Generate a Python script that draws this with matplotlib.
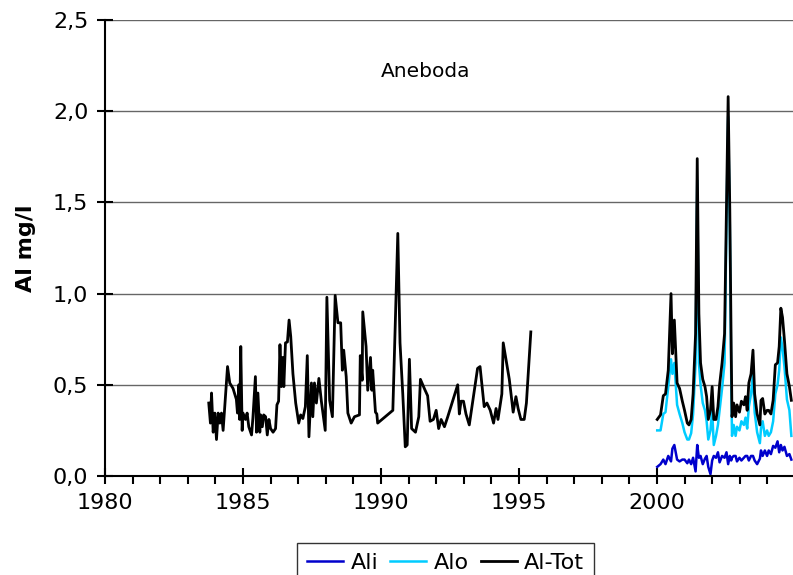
import numpy as np
import matplotlib.pyplot as plt
from matplotlib.ticker import MultipleLocator, FuncFormatter

# Al-Tot, första mätperioden (1983-1995)
years_old = [1983.76, 1983.82, 1983.86, 1983.92, 1983.98, 1984.04, 1984.10, 1984.16, 1984.22, 1984.28,
             1984.44, 1984.52, 1984.64, 1984.76, 1984.80, 1984.85, 1984.88, 1984.92, 1984.97, 1985.00,
             1985.09, 1985.15, 1985.21, 1985.31, 1985.36, 1985.45, 1985.49, 1985.54, 1985.61, 1985.64,
             1985.70, 1985.75, 1985.82, 1985.88, 1985.94, 1986.00, 1986.09, 1986.18, 1986.23, 1986.29,
             1986.34, 1986.39, 1986.44, 1986.48, 1986.54, 1986.61, 1986.67, 1986.73, 1986.81, 1986.91,
             1987.02, 1987.09, 1987.17, 1987.26, 1987.33, 1987.39, 1987.48, 1987.53, 1987.59, 1987.66,
             1987.75, 1987.84, 1987.98, 1988.04, 1988.14, 1988.24, 1988.34, 1988.44, 1988.54, 1988.60,
             1988.65, 1988.74, 1988.80, 1988.92, 1989.04, 1989.22, 1989.25, 1989.32, 1989.34, 1989.46,
             1989.52, 1989.62, 1989.67, 1989.70, 1989.80, 1989.85, 1989.88, 1990.43, 1990.61, 1990.69,
             1990.79, 1990.88, 1990.95, 1991.03, 1991.11, 1991.25, 1991.37, 1991.43, 1991.57, 1991.69,
             1991.78, 1991.90, 1992.00, 1992.09, 1992.18, 1992.30, 1992.42, 1992.78, 1992.84, 1992.90,
             1992.99, 1993.08, 1993.20, 1993.50, 1993.59, 1993.74, 1993.84, 1993.96, 1994.08, 1994.17,
             1994.24, 1994.38, 1994.43, 1994.65, 1994.79, 1994.89, 1994.97, 1995.07, 1995.19, 1995.27,
             1995.43]
altot_old = [0.40, 0.29, 0.455, 0.24, 0.345, 0.20, 0.345, 0.29, 0.345, 0.25,
             0.60, 0.51, 0.48, 0.42, 0.345, 0.50, 0.31, 0.71, 0.25, 0.345,
             0.31, 0.345, 0.27, 0.225, 0.32, 0.545, 0.24, 0.455, 0.24, 0.335,
             0.27, 0.335, 0.325, 0.225, 0.31, 0.26, 0.24, 0.26, 0.39, 0.41,
             0.72, 0.49, 0.65, 0.49, 0.73, 0.735, 0.855, 0.765, 0.56, 0.40,
             0.29, 0.335, 0.315, 0.38, 0.66, 0.215, 0.51, 0.325, 0.51, 0.40,
             0.535, 0.41, 0.25, 0.98, 0.415, 0.325, 0.99, 0.84, 0.84, 0.58,
             0.69, 0.545, 0.345, 0.29, 0.325, 0.335, 0.66, 0.525, 0.90, 0.71,
             0.47, 0.65, 0.47, 0.58, 0.35, 0.34, 0.29, 0.36, 1.33, 0.73,
             0.45, 0.16, 0.17, 0.64, 0.26, 0.24, 0.325, 0.53, 0.48, 0.44,
             0.30, 0.31, 0.36, 0.26, 0.31, 0.27, 0.325, 0.50, 0.34, 0.41,
             0.41, 0.34, 0.28, 0.59, 0.60, 0.38, 0.40, 0.36, 0.29, 0.37,
             0.31, 0.45, 0.73, 0.53, 0.35, 0.435, 0.37, 0.31, 0.31, 0.40,
             0.79]

# andra mätperioden (2000-2004), samma datum för alla tre serier
years_new = [2000.01, 2000.13, 2000.23, 2000.31, 2000.41, 2000.51, 2000.56, 2000.63, 2000.73, 2000.82, 2000.92,
             2001.00, 2001.10, 2001.16, 2001.24, 2001.31, 2001.40, 2001.46, 2001.52, 2001.58, 2001.66, 2001.74,
             2001.80, 2001.86, 2001.94,
             2002.00, 2002.06, 2002.14, 2002.21, 2002.27, 2002.36, 2002.45, 2002.52, 2002.58, 2002.64, 2002.69,
             2002.72, 2002.78, 2002.85, 2002.90, 2002.99,
             2003.06, 2003.15, 2003.21, 2003.27, 2003.33, 2003.41, 2003.48, 2003.54, 2003.63, 2003.73, 2003.77,
             2003.83, 2003.91, 2003.99,
             2004.05, 2004.13, 2004.21, 2004.29, 2004.37, 2004.43, 2004.49, 2004.55, 2004.62, 2004.71, 2004.80,
             2004.87]
altot_new = [0.31, 0.335, 0.44, 0.45, 0.58, 1.00, 0.67, 0.855, 0.51, 0.48, 0.41,
             0.36, 0.29, 0.28, 0.31, 0.45, 0.78, 1.74, 0.89, 0.62, 0.53, 0.49,
             0.435, 0.31, 0.36,
             0.49, 0.31, 0.31, 0.38, 0.50, 0.62, 0.78, 1.48, 2.08, 1.46, 0.71,
             0.325, 0.40, 0.325, 0.39, 0.35,
             0.41, 0.39, 0.435, 0.36, 0.51, 0.56, 0.69, 0.45, 0.34, 0.28, 0.415,
             0.425, 0.34, 0.36,
             0.36, 0.34, 0.415, 0.61, 0.62, 0.71, 0.92, 0.87, 0.745, 0.56, 0.49,
             0.415]
alo_new = [0.25, 0.25, 0.34, 0.35, 0.49, 0.64, 0.56, 0.62, 0.39, 0.34, 0.29,
           0.24, 0.20, 0.20, 0.235, 0.34, 0.62, 1.62, 0.62, 0.50, 0.40, 0.36,
           0.30, 0.20, 0.25,
           0.36, 0.17, 0.22, 0.28, 0.36, 0.48, 0.62, 1.40, 1.97, 1.38, 0.55,
           0.22, 0.28, 0.22, 0.27, 0.25,
           0.30, 0.28, 0.32, 0.26, 0.38, 0.45, 0.56, 0.35, 0.24, 0.18, 0.26,
           0.30, 0.22, 0.25,
           0.22, 0.24, 0.30, 0.45, 0.50, 0.58, 0.76, 0.70, 0.60, 0.42, 0.36,
           0.22]
ali_new = [0.05, 0.065, 0.09, 0.065, 0.11, 0.08, 0.15, 0.17, 0.09, 0.08, 0.09,
           0.09, 0.07, 0.09, 0.065, 0.10, 0.025, 0.17, 0.10, 0.11, 0.065, 0.095,
           0.11, 0.05, 0.01,
           0.085, 0.11, 0.10, 0.13, 0.075, 0.11, 0.10, 0.13, 0.065, 0.11, 0.085,
           0.10, 0.11, 0.11, 0.08, 0.10,
           0.085, 0.10, 0.11, 0.11, 0.085, 0.11, 0.11, 0.085, 0.065, 0.095, 0.14,
           0.11, 0.14, 0.11,
           0.14, 0.12, 0.165, 0.155, 0.19, 0.13, 0.17, 0.14, 0.16, 0.11, 0.12,
           0.09]

# Al-Tot som en serie med lucka mellan perioderna
years_tot = years_old + [np.nan] + years_new
altot = altot_old + [np.nan] + altot_new

plt.rcParams['font.family'] = 'DejaVu Sans'
fig = plt.figure(figsize=(7.93, 5.75), dpi=100)
ax = fig.add_axes([105 / 793, 1 - 476 / 575, 688 / 793, 456 / 575])

ax.plot(years_new, ali_new, color='#0000CC', lw=1.8, label='Ali')
ax.plot(years_new, alo_new, color='#00CCFF', lw=1.8, label='Alo')
ax.plot(years_tot, altot, color='black', lw=2.0, label='Al-Tot')

ax.set_xlim(1980, 2004.93)
ax.set_ylim(0, 2.5)
ax.xaxis.set_major_locator(MultipleLocator(5))
ax.xaxis.set_minor_locator(MultipleLocator(1))
ax.yaxis.set_major_locator(MultipleLocator(0.5))
ax.yaxis.set_major_formatter(FuncFormatter(lambda v, p: f'{v:.1f}'.replace('.', ',')))

ax.grid(axis='y', color='0.4', lw=1)
ax.set_axisbelow(True)
for s in ['top', 'right']:
    ax.spines[s].set_visible(False)
for s in ['left', 'bottom']:
    ax.spines[s].set_linewidth(1.5)

ax.tick_params(axis='both', which='major', direction='inout', length=12, width=1.5,
               labelsize=16, pad=6)
ax.tick_params(axis='x', which='minor', direction='out', length=6, width=1.5)

ax.set_ylabel('Al mg/l', fontsize=16, fontweight='bold', labelpad=12)
ax.text(1991.6, 2.22, 'Aneboda', fontsize=14.5, ha='center', va='center')

fig.legend(loc='upper left', bbox_to_anchor=(297 / 793, 1 - 543 / 575), ncol=3,
           fontsize=16, frameon=True, fancybox=False, edgecolor='black',
           handlelength=1.6, handletextpad=0.35, columnspacing=0.55,
           borderpad=0.45, borderaxespad=0)

fig.savefig('out.png', dpi=100)
